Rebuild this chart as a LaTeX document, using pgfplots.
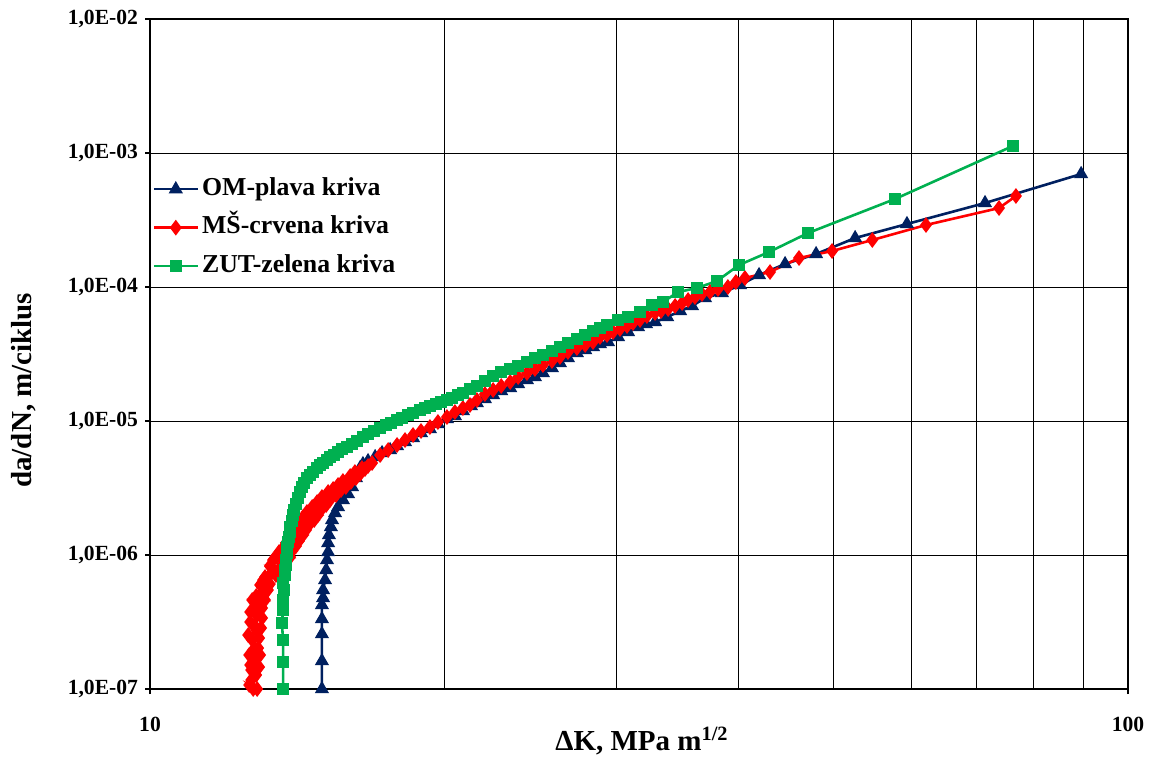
\documentclass[border=0pt]{standalone}
\usepackage{fontspec}
\setmainfont{Liberation Serif}
\usepackage{pgfplots}
\pgfplotsset{compat=1.18}
\definecolor{omblue}{RGB}{0,32,96}
\definecolor{msred}{RGB}{255,0,0}
\definecolor{zutgreen}{RGB}{0,176,80}
\begin{document}
\begin{tikzpicture}
\useasboundingbox (-75pt,-33.5pt) rectangle (502pt,344.5pt);
\begin{axis}[
  at={(0,0)}, anchor=south west,
  scale only axis, width=489pt, height=335pt,
  xmode=log, ymode=log,
  xmin=10, xmax=100, ymin=1e-7, ymax=1e-2,
  xtick={10,100}, xticklabels={10,100},
  ytick={1e-7,1e-6,1e-5,1e-4,1e-3,1e-2},
  yticklabels={{1,0E-07},{1,0E-06},{1,0E-05},{1,0E-04},{1,0E-03},{1,0E-02}},
  yminorticks=false,
  xmajorgrids, xminorgrids, ymajorgrids,
  major grid style={black, line width=0.5pt},
  minor grid style={black, line width=0.5pt},
  minor tick length=0pt,
  major tick length=2.5pt,
  tick align=outside,
  xtick pos=bottom, ytick pos=left,
  tick style={black, line width=0.6pt},
  axis line style={black, line width=0.8pt},
  tick label style={font=\fontsize{10.8}{13}\selectfont\bfseries},
  xticklabel style={yshift=-8pt},
  xlabel={\textbf{ΔK, MPa m\textsuperscript{1/2}}},
  ylabel={\textbf{da/dN, m/ciklus}},
  label style={font=\fontsize{14.5}{17}\selectfont\bfseries},
  xlabel style={at={(axis description cs:0.503,-0.0925)}, anchor=base},
  ylabel style={at={(axis description cs:-0.1295,0.446)}, anchor=center},
  legend style={at={(-0.004,0.775)}, anchor=north west, draw=none, fill=none,
    font=\fontsize{12.9}{15}\selectfont\bfseries,
    nodes={inner sep=1.5pt, text height=9pt, text depth=3pt}, row sep=4.25pt},
  legend cell align=left,
  legend image code/.code={\draw[mark repeat=2,mark phase=2] plot coordinates {(0pt,0pt) (11pt,0pt) (22pt,0pt)};},
]
\addplot[omblue, line width=1.3pt, mark=triangle*, mark size=2.8pt, mark options={solid, fill=omblue}] coordinates {
(14.99,1.000e-7) (14.99,1.618e-7) (14.99,2.573e-7) (14.99,3.330e-7) (14.99,4.235e-7)
(15.03,4.776e-7) (15.03,5.482e-7) (15.10,6.508e-7) (15.14,7.729e-7) (15.17,9.177e-7)
(15.21,1.053e-6) (15.21,1.229e-6) (15.24,1.410e-6) (15.31,1.618e-6) (15.35,1.825e-6)
(15.46,2.058e-6) (15.57,2.281e-6) (15.75,2.573e-6) (15.94,2.853e-6) (16.09,3.218e-6)
(16.24,3.755e-6) (16.40,4.461e-6) (16.51,4.776e-6) (16.71,5.029e-6) (16.99,5.387e-6)
(17.27,5.771e-6) (17.60,6.075e-6) (17.89,6.508e-6) (18.23,6.971e-6) (18.58,7.468e-6)
(18.93,8.137e-6) (19.33,8.717e-6) (19.70,9.498e-6) (20.12,1.035e-5) (20.50,1.090e-5)
(20.89,1.188e-5) (21.29,1.294e-5) (21.59,1.362e-5) (22.00,1.459e-5) (22.43,1.564e-5)
(22.86,1.675e-5) (23.35,1.763e-5) (23.79,1.889e-5) (24.29,2.023e-5) (24.75,2.129e-5)
(25.22,2.281e-5) (25.76,2.486e-5) (26.25,2.710e-5) (26.75,2.953e-5) (27.32,3.218e-5)
(27.86,3.388e-5) (28.38,3.567e-5) (28.85,3.755e-5) (29.40,3.886e-5) (30.10,4.235e-5)
(30.82,4.615e-5) (31.55,5.029e-5) (32.15,5.296e-5) (32.84,5.481e-5) (33.79,5.972e-5)
(34.84,6.622e-5) (35.83,7.214e-5) (36.94,8.279e-5) (38.45,9.021e-5) (40.11,1.035e-4)
(41.95,1.229e-4) (44.60,1.485e-4) (47.98,1.763e-4) (52.60,2.321e-4) (59.43,2.953e-4)
(71.42,4.235e-4) (89.55,6.971e-4)
};
\addlegendentry{OM-plava kriva}
\addplot[msred, line width=1.3pt, mark=diamond*, mark size=2.9pt, mark options={solid, fill=msred}] coordinates {
(12.75,1.000e-7) (12.63,1.071e-7) (12.87,1.000e-7) (12.69,1.167e-7) (12.84,1.272e-7)
(12.69,1.386e-7) (12.66,1.511e-7) (12.93,1.459e-7) (12.81,1.646e-7) (12.63,1.794e-7)
(12.75,1.954e-7) (12.96,1.794e-7) (12.90,2.023e-7) (12.72,2.321e-7) (12.60,2.529e-7)
(12.93,2.402e-7) (12.84,2.756e-7) (12.78,3.004e-7) (12.99,2.853e-7) (12.66,3.162e-7)
(13.02,3.388e-7) (12.87,3.567e-7) (12.66,3.755e-7) (12.75,3.886e-7) (13.02,4.023e-7)
(12.90,4.384e-7) (12.72,4.615e-7) (13.11,4.615e-7) (12.84,4.943e-7) (12.96,5.029e-7)
(13.08,5.205e-7) (13.20,5.482e-7) (12.96,5.972e-7) (13.26,6.075e-7) (13.05,6.508e-7)
(13.11,6.852e-7) (13.45,7.092e-7) (13.33,7.468e-7) (13.55,7.729e-7) (13.26,8.279e-7)
(13.64,8.279e-7) (13.36,9.177e-7) (13.74,9.021e-7) (13.45,9.662e-7) (13.91,9.662e-7)
(13.55,1.053e-6) (13.97,1.071e-6) (13.68,1.128e-6) (14.10,1.167e-6) (13.77,1.229e-6)
(14.20,1.272e-6) (13.87,1.339e-6) (14.34,1.410e-6) (14.00,1.459e-6) (14.44,1.537e-6)
(14.10,1.590e-6) (14.54,1.675e-6) (14.24,1.763e-6) (14.72,1.825e-6) (14.34,1.921e-6)
(14.85,1.988e-6) (14.47,2.093e-6) (14.96,2.167e-6) (14.65,2.281e-6) (15.14,2.361e-6)
(14.82,2.486e-6) (15.28,2.573e-6) (14.99,2.710e-6) (15.50,2.805e-6) (15.21,2.953e-6)
(15.68,3.056e-6) (15.39,3.109e-6) (15.86,3.218e-6) (15.57,3.330e-6) (16.05,3.506e-6)
(15.75,3.567e-6) (16.24,3.755e-6) (16.02,3.886e-6) (16.40,4.023e-6) (16.20,4.163e-6)
(16.59,4.384e-6) (16.47,4.461e-6) (16.71,4.615e-6) (16.87,4.859e-6)
(17.19,5.576e-6) (17.52,6.075e-6) (17.89,6.621e-6)
(18.23,7.215e-6) (18.58,7.862e-6) (18.93,8.422e-6) (19.33,9.021e-6) (19.70,9.830e-6)
(20.12,1.071e-5) (20.50,1.167e-5) (20.89,1.250e-5) (21.24,1.317e-5) (21.59,1.434e-5)
(22.00,1.590e-5) (22.43,1.703e-5) (22.86,1.825e-5) (23.35,1.954e-5) (23.79,2.129e-5)
(24.29,2.281e-5) (24.75,2.444e-5) (25.22,2.618e-5) (25.76,2.805e-5) (26.25,3.004e-5)
(26.75,3.274e-5) (27.32,3.506e-5) (27.86,3.692e-5) (28.38,3.886e-5) (28.85,4.235e-5)
(29.33,4.384e-5) (29.75,4.615e-5) (30.24,4.859e-5) (30.74,5.117e-5) (31.18,5.387e-5)
(31.70,5.673e-5) (32.22,6.075e-5) (32.84,6.398e-5) (33.31,6.622e-5) (33.87,6.852e-5)
(34.43,7.214e-5) (35.00,7.596e-5) (35.50,7.998e-5) (36.08,8.423e-5) (36.68,8.867e-5)
(37.38,9.177e-5) (38.09,9.662e-5) (38.99,1.000e-4) (39.73,1.090e-4) (40.58,1.167e-4)
(43.05,1.294e-4) (46.09,1.646e-4) (49.82,1.856e-4) (54.77,2.243e-4) (62.15,2.902e-4)
(73.82,3.886e-4) (76.81,4.776e-4)
};
\addlegendentry{MŠ-crvena kriva}
\addplot[zutgreen, line width=1.3pt, mark=square*, mark size=2.5pt, mark options={solid, fill=zutgreen}] coordinates {
(13.68,1.000e-7) (13.68,1.590e-7) (13.68,2.321e-7) (13.64,3.109e-7) (13.68,3.886e-7)
(13.68,4.615e-7) (13.71,5.482e-7) (13.68,6.181e-7) (13.74,7.092e-7) (13.74,7.729e-7)
(13.77,8.423e-7) (13.77,9.177e-7) (13.81,1.035e-6) (13.81,1.147e-6) (13.84,1.250e-6)
(13.87,1.362e-6) (13.91,1.485e-6) (13.91,1.618e-6) (13.97,1.794e-6) (14.00,1.988e-6)
(14.04,2.167e-6) (14.10,2.402e-6) (14.17,2.663e-6) (14.24,2.953e-6) (14.30,3.218e-6)
(14.37,3.446e-6) (14.47,3.755e-6) (14.58,3.954e-6) (14.68,4.163e-6) (14.82,4.461e-6)
(14.92,4.696e-6) (15.03,4.859e-6) (15.17,5.117e-6) (15.28,5.387e-6) (15.42,5.576e-6)
(15.57,5.871e-6) (15.72,6.181e-6) (15.90,6.398e-6) (16.09,6.735e-6) (16.28,7.092e-6)
(16.51,7.597e-6) (16.71,7.998e-6) (16.95,8.422e-6) (17.19,8.867e-6) (17.43,9.336e-6)
(17.64,9.662e-6) (17.89,1.017e-5) (18.10,1.053e-5) (18.36,1.109e-5) (18.58,1.148e-5)
(18.88,1.208e-5) (19.11,1.250e-5) (19.33,1.294e-5) (19.61,1.339e-5) (19.84,1.386e-5)
(20.12,1.434e-5) (20.36,1.485e-5) (20.65,1.564e-5) (20.89,1.618e-5) (21.24,1.733e-5)
(21.59,1.825e-5) (22.00,1.988e-5) (22.43,2.167e-5) (22.86,2.321e-5) (23.35,2.444e-5)
(23.79,2.573e-5) (24.29,2.756e-5) (24.75,2.953e-5) (25.22,3.109e-5) (25.76,3.330e-5)
(26.25,3.567e-5) (26.75,3.821e-5) (27.32,4.092e-5) (27.86,4.384e-5) (28.38,4.696e-5)
(28.85,4.944e-5) (29.33,5.205e-5) (30.10,5.673e-5) (30.82,5.972e-5) (31.70,6.508e-5)
(32.61,7.339e-5) (33.47,7.728e-5) (34.67,9.177e-5) (36.25,9.830e-5) (38.00,1.109e-4)
(40.01,1.459e-4) (42.95,1.825e-4) (47.08,2.529e-4) (57.78,4.537e-4) (76.26,1.128e-3)
};
\addlegendentry{ZUT-zelena kriva}
\end{axis}
\end{tikzpicture}
\end{document}
